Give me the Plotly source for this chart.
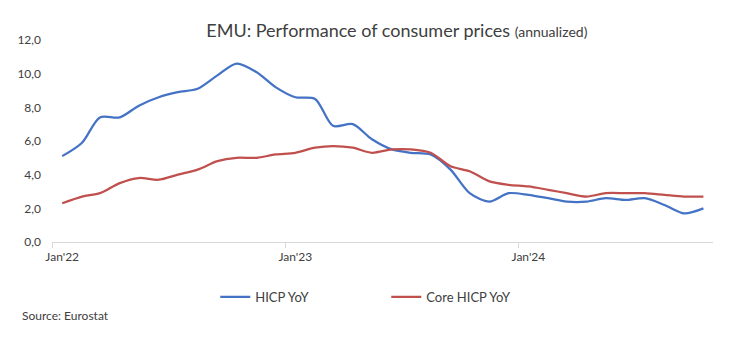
import plotly.graph_objects as go
import pandas as pd

months = pd.date_range("2022-01-01", "2024-10-01", freq="MS")
hicp = [5.1, 5.9, 7.4, 7.4, 8.1, 8.6, 8.9, 9.1, 9.9, 10.6, 10.1, 9.2,
        8.6, 8.5, 6.9, 7.0, 6.1, 5.5, 5.3, 5.2, 4.3, 2.9, 2.4, 2.9,
        2.8, 2.6, 2.4, 2.4, 2.6, 2.5, 2.6, 2.2, 1.7, 2.0]
core = [2.3, 2.7, 2.9, 3.5, 3.8, 3.7, 4.0, 4.3, 4.8, 5.0, 5.0, 5.2,
        5.3, 5.6, 5.7, 5.6, 5.3, 5.5, 5.5, 5.3, 4.5, 4.2, 3.6, 3.4,
        3.3, 3.1, 2.9, 2.7, 2.9, 2.9, 2.9, 2.8, 2.7, 2.7]
tick_dates = ["2022-01-01", "2023-01-01", "2024-01-01"]
tick_labels = ["Jan'22", "Jan'23", "Jan'24"]
y_ticks = [0, 2, 4, 6, 8, 10, 12]

FONT = "Lato"
fig = go.Figure()
fig.add_trace(go.Scatter(x=months, y=hicp, name="HICP YoY", mode="lines",
                         line=dict(color="#4472C4", width=2.25, shape="spline", smoothing=0.8)))
fig.add_trace(go.Scatter(x=months, y=core, name="Core HICP YoY", mode="lines",
                         line=dict(color="#C0504D", width=2.25, shape="spline", smoothing=0.8)))

fig.update_layout(
    width=739, height=344,
    margin=dict(l=52, r=26, t=40, b=102),
    plot_bgcolor="white", paper_bgcolor="white",
    separators=",.",
    font=dict(family=FONT, color="#595959", size=12),
    title=dict(text="EMU: Performance of consumer prices <span style='font-size:14px'>(annualized)</span>",
               x=0.537, xref="container", xanchor="center",
               y=1 - 31 / 344, yref="container", yanchor="middle",
               font=dict(family=FONT, size=18, color="#404040")),
    xaxis=dict(type="date", range=["2021-12-16", "2024-10-16"],
               tickvals=tick_dates, ticktext=tick_labels, ticks="", showgrid=False,
               showline=True, linecolor="#D9D9D9", linewidth=1, zeroline=False,
               ticklabelstandoff=4,
               tickfont=dict(family=FONT, size=12, color="#404040"),
               minor=dict(tickvals=["2021-12-16", "2022-12-16", "2023-12-16"],
                          ticks="outside", ticklen=5, tickcolor="#D9D9D9", showgrid=False)),
    yaxis=dict(range=[0, 12], tickvals=y_ticks, tickformat=".1f", showgrid=False,
               zeroline=False, showline=False, ticks="", ticklabelstandoff=10,
               tickfont=dict(family=FONT, size=12, color="#404040")),
    legend=dict(orientation="h", x=0.247, xanchor="left", y=-0.272, yanchor="middle",
                entrywidth=126, font=dict(family=FONT, size=13, color="#404040")),
    annotations=[dict(text="Source: Eurostat", xref="paper", yref="paper",
                      x=-0.048, y=-0.366, xanchor="left", yanchor="middle", showarrow=False,
                      font=dict(family=FONT, size=12, color="#404040"))],
)
fig.write_html("out.html")
